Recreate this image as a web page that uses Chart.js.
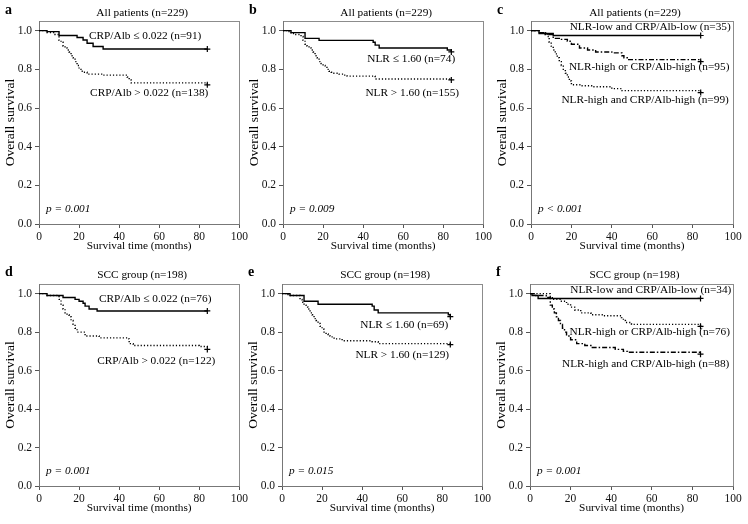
<!DOCTYPE html>
<html>
<head>
<meta charset="utf-8">
<script src="https://cdn.jsdelivr.net/npm/chart.js@4"></script>
<style>
  html, body { margin: 0; padding: 0; background: #fff; }
  #wrap { position: relative; width: 748px; height: 524px; overflow: hidden; }
  #wrap canvas { position: absolute; }
</style>
</head>
<body>
<div id="wrap"></div>
<script>
const xTicks = [0, 20, 40, 60, 80, 100];
const yTicks = [0, 0.2, 0.4, 0.6, 0.8, 1.0];

// a - all patients, CRP/Alb
const aLowTime = [0, 4, 10, 19, 22, 24, 27, 32, 84];
const aLowSurv = [1, 0.995, 0.975, 0.965, 0.952, 0.935, 0.918, 0.905, 0.905];
const aHighTime = [0, 4, 8, 10, 11, 12, 13, 14, 15, 16, 17, 18, 19, 20, 21, 22, 24, 32, 44, 45, 46, 84];
const aHighSurv = [1, 0.99, 0.98, 0.95, 0.94, 0.92, 0.91, 0.90, 0.89, 0.87, 0.86, 0.84, 0.82, 0.80, 0.79, 0.785, 0.775, 0.77, 0.76, 0.745, 0.73, 0.72];

// b - all patients, NLR
const bLowTime = [0, 4, 11, 18, 45, 46, 48, 82, 84];
const bLowSurv = [1, 0.99, 0.96, 0.95, 0.94, 0.925, 0.91, 0.90, 0.89];
const bHighTime = [0, 2, 4, 6, 9, 10, 11, 12, 13, 14, 15, 16, 17, 18, 19, 20, 21, 22, 23, 24, 25, 28, 30, 32, 46, 84];
const bHighSurv = [1, 0.995, 0.985, 0.98, 0.97, 0.95, 0.93, 0.92, 0.91, 0.90, 0.89, 0.87, 0.86, 0.84, 0.83, 0.82, 0.81, 0.80, 0.79, 0.785, 0.78, 0.775, 0.77, 0.765, 0.75, 0.745];

// c - all patients, combined
const cLowTime = [0, 4, 11, 84];
const cLowSurv = [1, 0.985, 0.975, 0.975];
const cOrTime = [0, 4, 7, 11, 14, 18, 20, 24, 28, 32, 40, 45, 46, 48, 84];
const cOrSurv = [1, 0.99, 0.98, 0.96, 0.955, 0.945, 0.93, 0.91, 0.90, 0.89, 0.885, 0.87, 0.86, 0.85, 0.84];
const cAndTime = [0, 4, 8, 9, 10, 11, 12, 13, 14, 15, 16, 17, 18, 19, 20, 25, 30, 40, 45, 84];
const cAndSurv = [1, 0.99, 0.97, 0.94, 0.92, 0.90, 0.88, 0.86, 0.84, 0.82, 0.80, 0.78, 0.76, 0.74, 0.72, 0.715, 0.71, 0.70, 0.69, 0.68];

// d - SCC group, CRP/Alb
const dLowTime = [0, 4, 12, 18, 20, 22, 23, 25, 29, 84];
const dLowSurv = [1, 0.99, 0.98, 0.97, 0.96, 0.95, 0.935, 0.92, 0.91, 0.91];
const dHighTime = [0, 4, 10, 11, 12, 13, 14, 15, 16, 17, 18, 19, 23, 30, 44, 45, 47, 80, 84];
const dHighSurv = [1, 0.99, 0.97, 0.94, 0.92, 0.90, 0.89, 0.88, 0.86, 0.84, 0.82, 0.80, 0.78, 0.77, 0.765, 0.74, 0.73, 0.725, 0.71];

// e - SCC group, NLR
const eLowTime = [0, 4, 11, 18, 45, 46, 48, 83, 84];
const eLowSurv = [1, 0.99, 0.96, 0.945, 0.935, 0.915, 0.90, 0.89, 0.88];
const eHighTime = [0, 3, 9, 10, 11, 12, 13, 14, 15, 16, 17, 18, 19, 20, 21, 22, 23, 24, 26, 30, 45, 48, 84];
const eHighSurv = [1, 0.99, 0.97, 0.955, 0.94, 0.93, 0.92, 0.90, 0.89, 0.87, 0.86, 0.845, 0.83, 0.815, 0.80, 0.79, 0.78, 0.775, 0.765, 0.755, 0.75, 0.74, 0.735];

// f - SCC group, combined
const fLowTime = [0, 1, 4, 84];
const fLowSurv = [1, 0.99, 0.975, 0.975];
const fOrTime = [0, 10, 11, 15, 18, 20, 22, 25, 30, 36, 45, 46, 47, 50, 84];
const fOrSurv = [1, 0.985, 0.97, 0.96, 0.945, 0.93, 0.915, 0.90, 0.89, 0.885, 0.875, 0.86, 0.85, 0.84, 0.83];
const fAndTime = [0, 2, 8, 10, 11, 12, 13, 14, 15, 16, 17, 18, 20, 23, 27, 30, 42, 46, 48, 84];
const fAndSurv = [1, 0.99, 0.98, 0.94, 0.92, 0.90, 0.88, 0.86, 0.84, 0.82, 0.80, 0.78, 0.76, 0.74, 0.73, 0.72, 0.71, 0.70, 0.695, 0.685];

const SOLID = [];
const DOTTED = [1.2, 2];
const DASHDOT = [5, 2, 1.5, 2];
const FONT = 'Liberation Serif';

const panels = [
    { letter: 'a', title: 'All patients (n=229)', left: 0, top: 0, width: 250, padTop: 21, padRight: 5,
      curves: [[aLowTime, aLowSurv, SOLID], [aHighTime, aHighSurv, DOTTED]],
      notes: [['CRP/Alb \u2264 0.022 (n=91)', 53, 0.97], ['CRP/Alb > 0.022 (n=138)', 55, 0.675]],
      p: 'p = 0.001' },
    { letter: 'b', title: 'All patients (n=229)', left: 244, top: 0, width: 250, padTop: 21, padRight: 9,
      curves: [[bLowTime, bLowSurv, SOLID], [bHighTime, bHighSurv, DOTTED]],
      notes: [['NLR \u2264 1.60 (n=74)', 64, 0.853], ['NLR > 1.60 (n=155)', 64.5, 0.68]],
      p: 'p = 0.009' },
    { letter: 'c', title: 'All patients (n=229)', left: 492, top: 0, width: 256, padTop: 21, padRight: 15,
      curves: [[cLowTime, cLowSurv, SOLID], [cOrTime, cOrSurv, DASHDOT], [cAndTime, cAndSurv, DOTTED]],
      notes: [['NLR-low and CRP/Alb-low (n=35)', 59, 1.02], ['NLR-high or CRP/Alb-high (n=95)', 58.5, 0.81],
              ['NLR-high and CRP/Alb-high (n=99)', 56.5, 0.64]],
      p: 'p < 0.001' },
    { letter: 'd', title: 'SCC group (n=198)', left: 0, top: 262, width: 250, padTop: 22, padRight: 5,
      curves: [[dLowTime, dLowSurv, SOLID], [dHighTime, dHighSurv, DOTTED]],
      notes: [['CRP/Alb \u2264 0.022 (n=76)', 58, 0.97], ['CRP/Alb > 0.022 (n=122)', 58.5, 0.65]],
      p: 'p = 0.001' },
    { letter: 'e', title: 'SCC group (n=198)', left: 243, top: 262, width: 250, padTop: 22, padRight: 8,
      curves: [[eLowTime, eLowSurv, SOLID], [eHighTime, eHighSurv, DOTTED]],
      notes: [['NLR \u2264 1.60 (n=69)', 61, 0.835], ['NLR > 1.60 (n=129)', 60, 0.68]],
      p: 'p = 0.015' },
    { letter: 'f', title: 'SCC group (n=198)', left: 491, top: 262, width: 257, padTop: 22, padRight: 15,
      curves: [[fLowTime, fLowSurv, SOLID], [fOrTime, fOrSurv, DOTTED], [fAndTime, fAndSurv, DASHDOT]],
      notes: [['NLR-low and CRP/Alb-low (n=34)', 59.5, 1.02], ['NLR-high or CRP/Alb-high (n=76)', 59, 0.80],
              ['NLR-high and CRP/Alb-high (n=88)', 57, 0.635]],
      p: 'p = 0.001' }
];

// frame, panel letter, title, curve labels and p value
const decor = {
    id: 'decor',
    beforeDraw(chart) {
        const { ctx, chartArea: a } = chart;
        ctx.save();
        ctx.strokeStyle = '#8c8c8c';
        ctx.lineWidth = 1;
        ctx.strokeRect(Math.round(a.left) + 0.5, Math.round(a.top) + 0.5,
                       Math.round(a.right - a.left), Math.round(a.bottom - a.top));
        ctx.restore();
    },
    afterDatasetsDraw(chart) {
        const { ctx, chartArea: a, scales } = chart;
        const cfg = chart.options.plugins.decor;
        ctx.save();
        ctx.fillStyle = '#000';
        ctx.textBaseline = 'middle';
        ctx.font = 'bold 14px "' + FONT + '"';
        ctx.textAlign = 'left';
        ctx.fillText(cfg.letter, 5, 10);
        ctx.font = '11.3px "' + FONT + '"';
        ctx.textAlign = 'center';
        ctx.fillText(cfg.title, (a.left + a.right) / 2 + 3, 13);
        cfg.notes.forEach(n => {
            ctx.fillText(n[0], scales.x.getPixelForValue(n[1]), scales.y.getPixelForValue(n[2]));
        });
        ctx.font = 'italic 11.3px "' + FONT + '"';
        ctx.textAlign = 'left';
        ctx.fillText(cfg.p, a.left + 7, scales.y.getPixelForValue(0.078));
        ctx.restore();
    }
};

const wrap = document.getElementById('wrap');

panels.forEach(panel => {
    const canvas = document.createElement('canvas');
    canvas.width = panel.width;
    canvas.height = 262;
    canvas.style.left = panel.left + 'px';
    canvas.style.top = panel.top + 'px';
    canvas.style.width = panel.width + 'px';
    canvas.style.height = '262px';
    wrap.appendChild(canvas);

    const datasets = panel.curves.map(c => ({
        data: c[0].map((t, i) => ({ x: t, y: c[1][i] })),
        borderColor: '#000',
        borderWidth: 1.4,
        borderDash: c[2],
        stepped: true,
        fill: false,
        pointStyle: 'cross',
        pointBorderColor: '#000',
        pointBorderWidth: 1.2,
        pointRadius: ctx => ctx.dataIndex === ctx.dataset.data.length - 1 ? 3 : 0
    }));

    new Chart(canvas, {
        type: 'line',
        data: { datasets: datasets },
        options: {
            responsive: false,
            animation: false,
            layout: { padding: { top: panel.padTop, right: panel.padRight, left: 0, bottom: 0 } },
            plugins: {
                legend: { display: false },
                tooltip: { enabled: false },
                decor: { letter: panel.letter, title: panel.title, notes: panel.notes, p: panel.p }
            },
            scales: {
                x: {
                    type: 'linear',
                    min: 0,
                    max: 100,
                    afterBuildTicks: s => { s.ticks = xTicks.map(v => ({ value: v })); },
                    afterFit: s => { s.height = 38; },
                    ticks: { color: '#111', font: { family: FONT, size: 11.5 }, padding: 2, maxRotation: 0 },
                    grid: { display: true, drawOnChartArea: false, drawTicks: true, tickLength: 4, color: '#555' },
                    border: { display: true, color: '#777' },
                    title: { display: true, text: 'Survival time (months)', color: '#000',
                             font: { family: FONT, size: 11.3 }, padding: { top: 0, bottom: 9 } }
                },
                y: {
                    type: 'linear',
                    min: 0,
                    max: 1.05,
                    afterBuildTicks: s => { s.ticks = yTicks.map(v => ({ value: v })); },
                    afterFit: s => { s.width = 39; },
                    ticks: { color: '#111', font: { family: FONT, size: 11.5 }, padding: 3,
                             callback: v => v.toFixed(1) },
                    grid: { display: true, drawOnChartArea: false, drawTicks: true, tickLength: 4, color: '#555' },
                    border: { display: true, color: '#777' },
                    title: { display: true, text: 'Overall survival', color: '#000',
                             font: { family: FONT, size: 13.5 }, padding: { top: 2, bottom: 0 } }
                }
            }
        },
        plugins: [decor]
    });
});
</script>
</body>
</html>
